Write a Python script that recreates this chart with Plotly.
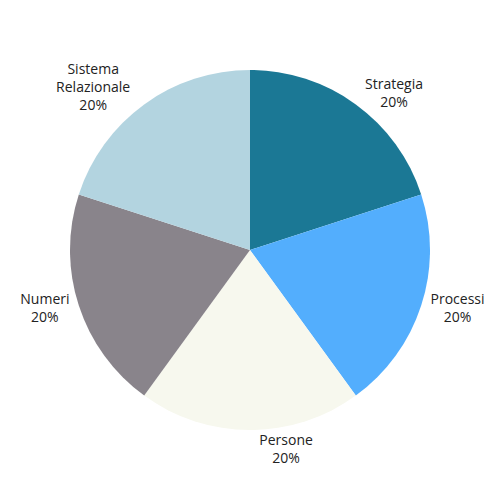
import plotly.graph_objects as go

etichette = ["Strategia", "Processi", "Persone", "Numeri", "Sistema<br>Relazionale"]
valori = [20, 20, 20, 20, 20]
colori = ["#1B7895", "#53AEFD", "#F7F8EE", "#89848B", "#B3D4E0"]

fig = go.Figure(
    data=[
        go.Pie(
            labels=etichette,
            values=valori,
            sort=False,
            direction="clockwise",
            rotation=0,
            marker=dict(colors=colori, line=dict(width=0)),
            textinfo="label+percent",
            textposition="outside",
            textfont=dict(family="Open Sans", size=14, color="#222222"),
            showlegend=False,
        )
    ]
)
fig.update_layout(
    width=500,
    height=500,
    margin=dict(l=62, r=78, t=62, b=78),
    paper_bgcolor="white",
    plot_bgcolor="white",
)
fig.write_html("out.html")
